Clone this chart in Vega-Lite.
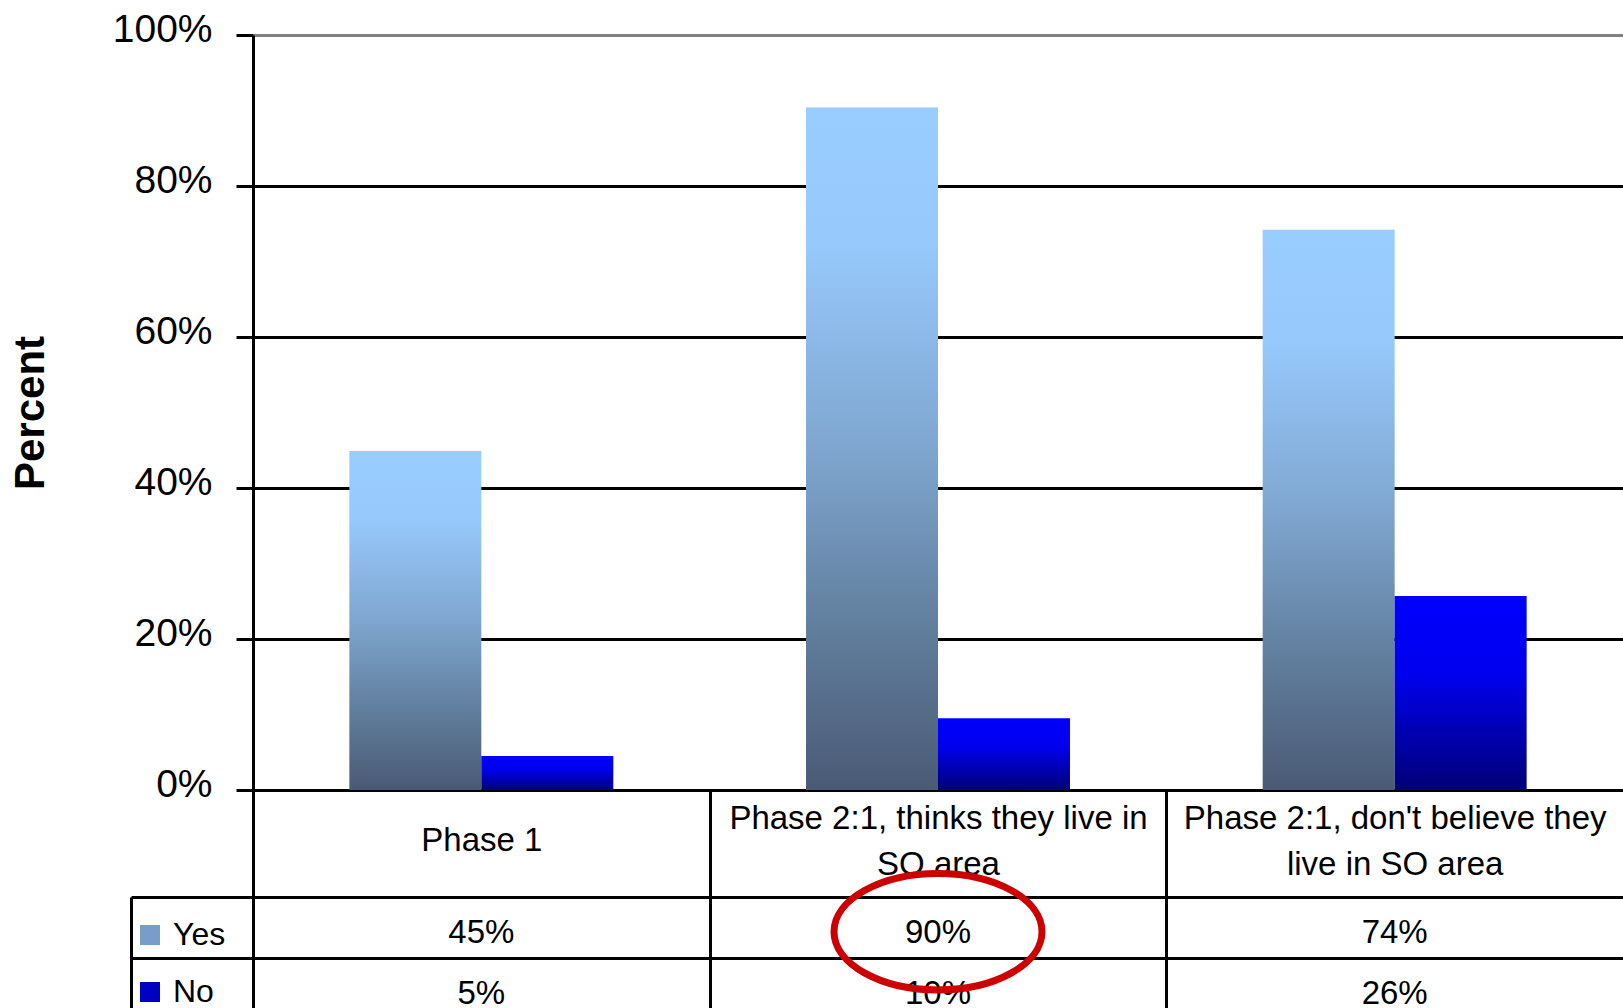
{
  "$schema": "https://vega.github.io/schema/vega-lite/v6.json",
  "autosize": {"type": "none"},
  "padding": {"left": 253, "top": 35, "right": 0, "bottom": 0},
  "background": "white",
  "width": 1370,
  "height": 973,
  "config": {
    "font": "Liberation Sans",
    "view": {"stroke": null},
    "axis": {"labelColor": "black", "titleColor": "black", "labelFont": "Liberation Sans", "titleFont": "Liberation Sans"},
    "legend": {"labelFont": "Liberation Sans", "labelColor": "black"}
  },
  "data": {
    "values": [
      {"phase": "Phase 1", "series": "Yes", "value": 0.449, "label": "45%"},
      {"phase": "Phase 2:1, thinks they live in SO area", "series": "Yes", "value": 0.904, "label": "90%"},
      {"phase": "Phase 2:1, don't believe they live in SO area", "series": "Yes", "value": 0.742, "label": "74%"},
      {"phase": "Phase 1", "series": "No", "value": 0.045, "label": "5%"},
      {"phase": "Phase 2:1, thinks they live in SO area", "series": "No", "value": 0.095, "label": "10%"},
      {"phase": "Phase 2:1, don't believe they live in SO area", "series": "No", "value": 0.257, "label": "26%"}
    ]
  },
  "layer": [
    {
      "encoding": {
        "x": {
          "field": "phase",
          "type": "nominal",
          "sort": ["Phase 1", "Phase 2:1, thinks they live in SO area", "Phase 2:1, don't believe they live in SO area"],
          "scale": {"paddingInner": 0, "paddingOuter": 0},
          "axis": {
            "title": null,
            "orient": "bottom",
            "offset": -218,
            "domain": true,
            "domainColor": "black",
            "domainWidth": 3,
            "ticks": true,
            "tickOffset": -228.33,
            "tickSize": 218,
            "tickWidth": 3,
            "tickColor": "black",
            "labelAngle": 0,
            "labelFontSize": 33,
            "labelBaseline": "middle",
            "labelOffset": 228.33,
            "labelPadding": {"condition": {"test": "datum.label == 'Phase 1'", "value": -168}, "value": -190},
            "labelLineHeight": 46,
            "labelLimit": 460,
            "labelOverlap": false,
            "labelFlush": false,
            "grid": false,
            "labelExpr": "datum.label == 'Phase 1' ? 'Phase 1' : indexof(datum.label, 'thinks') >= 0 ? ['Phase 2:1, thinks they live in', 'SO area'] : [\"Phase 2:1, don't believe they\", 'live in SO area']"
          }
        },
        "xOffset": {"field": "series", "type": "nominal", "sort": ["Yes", "No"], "scale": {"domain": ["Yes", "No"], "paddingInner": 0, "paddingOuter": 0.73}},
        "y": {
          "field": "value",
          "type": "quantitative",
          "scale": {"domain": [0, 1], "range": [755, 0]},
          "axis": {
            "title": "Percent",
            "titleFontSize": 42,
            "titleFontWeight": "bold",
            "titlePadding": 60,
            "values": [0, 0.2, 0.4, 0.6, 0.8, 1],
            "format": ".0%",
            "labelFontSize": 39,
            "labelPadding": 24,
            "labelOffset": -6,
            "tickSize": 17,
            "tickWidth": 3,
            "tickColor": "black",
            "domainColor": "black",
            "domainWidth": 3,
            "grid": true,
            "gridWidth": 3,
            "gridColor": {"condition": {"test": "datum.value >= 1", "value": "#808080"}, "value": "black"}
          }
        }
      },
      "layer": [
        {
          "transform": [{"filter": "datum.series == 'Yes'"}],
          "mark": {
            "type": "bar",
            "fill": {"gradient": "linear", "x1": 0, "y1": 0, "x2": 0, "y2": 1, "stops": [
              {"offset": 0, "color": "#99CCFF"},
              {"offset": 0.2, "color": "#97C9FC"},
              {"offset": 0.5, "color": "#7FA6D0"},
              {"offset": 0.75, "color": "#62809F"},
              {"offset": 1, "color": "#4A5A75"}
            ]}
          }
        },
        {
          "transform": [{"filter": "datum.series == 'No'"}],
          "mark": {
            "type": "bar",
            "fill": {"gradient": "linear", "x1": 0, "y1": 0, "x2": 0, "y2": 1, "stops": [
              {"offset": 0, "color": "#0000FF"},
              {"offset": 0.4, "color": "#0000EE"},
              {"offset": 1, "color": "#000078"}
            ]}
          }
        },
        {
          "mark": {"type": "bar", "opacity": 0},
          "encoding": {
            "color": {
              "field": "series",
              "type": "nominal",
              "sort": ["Yes", "No"],
              "scale": {"domain": ["Yes", "No"], "range": ["#7A9CC8", "#0000C4"]},
              "legend": {
                "title": null,
                "orient": "none",
                "legendX": -119,
                "legendY": 884,
                "direction": "vertical",
                "symbolType": "square",
                "symbolSize": 400,
                "symbolStrokeWidth": 0,
                "symbolOpacity": 1,
                "labelFontSize": 32,
                "labelOffset": 7,
                "rowPadding": 25,
                "padding": 0
              }
            }
          }
        }
      ]
    },
    {
      "mark": {"type": "text", "fontSize": 33, "color": "black", "baseline": "middle", "align": "center", "dy": 5},
      "encoding": {
        "x": {
          "field": "phase",
          "type": "nominal",
          "sort": ["Phase 1", "Phase 2:1, thinks they live in SO area", "Phase 2:1, don't believe they live in SO area"],
          "scale": {"paddingInner": 0, "paddingOuter": 0}
        },
        "y": {
          "field": "series",
          "type": "nominal",
          "sort": ["Yes", "No"],
          "scale": {"domain": ["Yes", "No"], "range": [862, 984], "paddingInner": 0, "paddingOuter": 0},
          "axis": {
            "title": null,
            "orient": "left",
            "domain": false,
            "labels": false,
            "ticks": true,
            "tickBand": "extent",
            "tickSize": 122,
            "tickWidth": 3,
            "tickColor": "black",
            "grid": true,
            "gridColor": "black",
            "gridWidth": 3
          }
        },
        "text": {"field": "label", "type": "nominal"}
      }
    },
    {
      "transform": [{"filter": "datum.series == 'Yes' && indexof(datum.phase, 'thinks') >= 0"}],
      "mark": {
        "type": "point",
        "shape": "M -1 0.04 A 1 0.56 0 1 1 1 0.04 A 1 0.56 0 1 1 -1 0.04 Z",
        "size": 43264,
        "filled": false,
        "stroke": "#CC0000",
        "strokeWidth": 7,
        "opacity": 1
      },
      "encoding": {
        "x": {
          "field": "phase",
          "type": "nominal",
          "sort": ["Phase 1", "Phase 2:1, thinks they live in SO area", "Phase 2:1, don't believe they live in SO area"],
          "scale": {"paddingInner": 0, "paddingOuter": 0}
        },
        "y": {
          "field": "series",
          "type": "nominal",
          "sort": ["Yes", "No"],
          "scale": {"domain": ["Yes", "No"], "range": [862, 984], "paddingInner": 0, "paddingOuter": 0},
          "axis": {
            "title": null,
            "orient": "left",
            "offset": 122,
            "domain": true,
            "domainColor": "black",
            "domainWidth": 3,
            "labels": false,
            "ticks": false,
            "grid": false
          }
        }
      }
    }
  ],
  "resolve": {"scale": {"y": "independent"}, "axis": {"y": "independent"}}
}
